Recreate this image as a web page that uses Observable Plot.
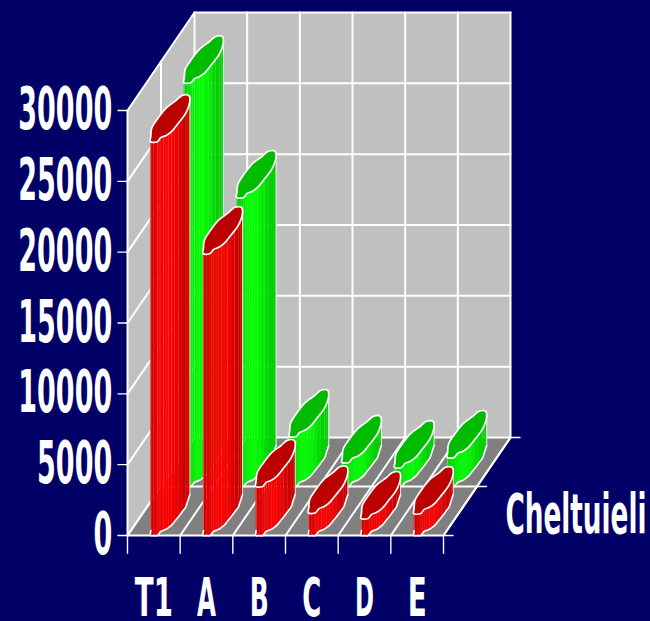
<!DOCTYPE html>
<html>
<head>
<meta charset="utf-8">
<script src="https://cdn.jsdelivr.net/npm/d3@7"></script>
<script src="https://cdn.jsdelivr.net/npm/@observablehq/plot@0.6"></script>
<style>
html,body{margin:0;padding:0;background:#000066;overflow:hidden}
svg{display:block}
</style>
</head>
<body>
<div id="chart"></div>
<script>
const categories = ["T1", "A", "B", "C", "D", "E"];
const redValues = [27800, 19900, 3460, 1600, 1200, 1550];
const greenValues = [28500, 20400, 3530, 1700, 1340, 2050];
const valueTicks = [0, 5000, 10000, 15000, 20000, 25000, 30000];
const depthTitle = "Cheltuieli";

// Oblique projection: depth 0 = front plane, depth 1 = back wall.
const DX = 1.272, DY = 6918;
const px = (c, d) => c + d * DX;
const py = (v, d) => v + d * DY;

// Cross-section outline of a bar in unit coordinates (u across, v in depth).
const outlineU = [-.3, .3, .36, .68, .9, 1, 1.05, .68, .3, -.3, -.5, -.9, -1, -.95, -.55];
const outlineV = [-1, -1, -.82, -.73, -.56, -.2, .24, .78, 1, 1, .78, .47, .02, -.42, -.78];
const outline = outlineU.map((u, i) => ({u, v: outlineV[i]}));
const BAR_U = 0.225, BAR_D = 0.235;

function pt(cat, row, value, o) {
  const d = (row === 0 ? 0.235 : 0.735) + o.v * BAR_D;
  return {x: px(cat + 0.5 + o.u * BAR_U, d), y: py(value, d)};
}

// visible front arc: from the leftmost vertex, through the low side, to the rightmost
const frontIdx = [14, 0, 1, 2, 3, 4, 5, 6, 7];
function subdivide(list, n) {
  const out = [];
  for (let i = 0; i < list.length - 1; i++)
    for (let k = 0; k < n; k++) {
      const t = k / n, a = outline[list[i]], b = outline[list[i + 1]];
      out.push({u: a.u + (b.u - a.u) * t, v: a.v + (b.v - a.v) * t});
    }
  out.push(outline[list[list.length - 1]]);
  return out;
}
const front = subdivide(frontIdx, 2);

const series = [
  {name: "green", row: 1, values: greenValues, top: "#00bb00", base: [0, 255, 0]},
  {name: "red", row: 0, values: redValues, top: "#bb0000", base: [255, 0, 0]}
];

const fixed = {x: "x", y: "y"};
const barMarks = [];
// painter's order: back row first, one set of marks for each bar
for (const s of series) {
  for (let c = categories.length - 1; c >= 0; c--) {
    const value = s.values[c];
    const facets = [], rim = [], cap = [], edges = [];
    const xmin = pt(c, s.row, 0, outline[14]).x, xmax = pt(c, s.row, 0, outline[7]).x;
    for (let i = 0; i < front.length - 1; i++) {
      const a = front[i], b = front[i + 1];
      const pa0 = pt(c, s.row, 0, a), pb0 = pt(c, s.row, 0, b);
      const pa1 = pt(c, s.row, value, a), pb1 = pt(c, s.row, value, b);
      const mid = ((pa0.x + pb0.x) / 2 - xmin) / (xmax - xmin);
      const shade = 0.82 + 0.18 * Math.sin(Math.PI * Math.min(1, Math.max(0, mid * 1.25 - 0.02)));
      const col = `rgb(${s.base.map(k => Math.round(k * shade)).join(",")})`;
      for (const p of [pa0, pb0, pb1, pa1]) facets.push({...p, id: i, col});
    }
    for (const a of front) rim.push(pt(c, s.row, 0, a));
    edges.push({...pt(c, s.row, 0, front[0]), id: 0, o: 0.35}, {...pt(c, s.row, value, front[0]), id: 0, o: 0.35});
    const last = front[front.length - 1];
    edges.push({...pt(c, s.row, 0, last), id: 1, o: 0.85}, {...pt(c, s.row, value, last), id: 1, o: 0.85});
    for (const o of outline) cap.push(pt(c, s.row, value, o));
    barMarks.push(
      Plot.line(facets, {...fixed, z: "id", fill: "col", stroke: "#fff", strokeOpacity: 0.04, strokeWidth: 0.7, curve: "linear-closed"}),
      Plot.line(rim, {...fixed, stroke: "#fff", strokeWidth: 1.6, curve: "catmull-rom"}),
      Plot.line(edges, {...fixed, z: "id", stroke: "#fff", strokeOpacity: "o", strokeWidth: 1}),
      Plot.line(cap, {...fixed, fill: s.top, stroke: "#fff", strokeWidth: 1.7, strokeLinejoin: "round", curve: "catmull-rom-closed"})
    );
  }
}

// walls, floor, grid
const yMax = 30000, xMax = categories.length;
const poly = (pts, name) => pts.map(([c, d, v]) => ({x: px(c, d), y: py(v, d), name}));
const sideWall = poly([[0,0,0],[0,1,0],[0,1,yMax],[0,0,yMax]], "side");
const backWall = poly([[0,1,0],[xMax,1,0],[xMax,1,yMax],[0,1,yMax]], "back");
const floor = poly([[0,0,0],[xMax,0,0],[xMax,1,0],[0,1,0]], "floor");

const gridSegs = [];
const seg = (a, b) => { const k = gridSegs.length; gridSegs.push(
  {x: px(a[0], a[1]), y: py(a[2], a[1]), k}, {x: px(b[0], b[1]), y: py(b[2], b[1]), k}); };
for (const v of valueTicks) {
  seg([0, 0, v], [0, 1, v]);
  seg([0, 1, v], [xMax, 1, v]);
}
categories.concat([""]).forEach((_, c) => {
  seg([c, 0, 0], [c, 1, 0]);
  seg([c, 1, 0], [c, 1, yMax]);
});
seg([0, 0.5, 0], [0, 0.5, yMax]);
seg([0, 0.5, 0], [xMax, 0.5, 0]);
seg([0, 0, 0], [xMax, 0, 0]);
seg([0, 0, 0], [0, 0, yMax]);
seg([xMax, 0, 0], [xMax, 1, 0]);

// tick stubs
const tickSegs = [];
const tseg = (x1, y1, x2, y2) => { const k = tickSegs.length; tickSegs.push({x: x1, y: y1, k}, {x: x2, y: y2, k}); };
const xStub = 1250, yStub = 0.18;
categories.concat([""]).forEach((_, c) => tseg(c, 0, c, -xStub));
for (const v of valueTicks) tseg(0, v, -yStub, v);
tseg(xMax, 0, xMax + yStub, 0);
tseg(px(xMax, .5), py(0, .5), px(xMax, .5) + yStub, py(0, .5));
tseg(px(xMax, 1), py(0, 1), px(xMax, 1) + yStub, py(0, 1));

const catLabels = categories.map((c, i) => ({c, x: i + 0.5, y: -4450}));
const valLabels = valueTicks.map(v => ({v: String(v), x: -0.29, y: v}));
const depthLabel = [{t: depthTitle, x: 8.515, y: 1413}];

const textStyle = {...fixed, fill: "#fff", fontFamily: "DejaVu Sans", fontWeight: "bold"};
const chart = Plot.plot({
  width: 650, height: 621,
  margin: 0,
  style: {background: "#000066"},
  x: {domain: [0, 6], range: [127, 443], axis: null},
  y: {domain: [0, 30000], range: [535, 110], axis: null},
  marks: [
    Plot.line(sideWall, {...fixed, z: "name", fill: "#c0c0c0", stroke: "none", curve: "linear-closed"}),
    Plot.line(backWall, {...fixed, z: "name", fill: "#c0c0c0", stroke: "none", curve: "linear-closed"}),
    Plot.line(floor, {...fixed, z: "name", fill: "#808080", stroke: "none", curve: "linear-closed"}),
    Plot.line(gridSegs, {...fixed, z: "k", stroke: "#fff", strokeWidth: 2, strokeLinecap: "round"}),
    Plot.line(tickSegs, {...fixed, z: "k", stroke: "#fff", strokeWidth: 1.4}),
    ...barMarks,
    Plot.text(valLabels, {...textStyle, text: "v", fontSize: 58, textAnchor: "end", className: "vlabel"}),
    Plot.text(catLabels, {...textStyle, text: "c", fontSize: 54, textAnchor: "middle", className: "clabel"}),
    Plot.text(depthLabel, {...textStyle, text: "t", fontSize: 55, textAnchor: "middle", className: "dlabel"})
  ]
});
document.getElementById("chart").append(chart);
// Condense the labels horizontally, as in the reference
const squeeze = (cls, perChar) => chart.querySelectorAll(`.${cls} text`).forEach(t => {
  const scale = perChar * t.textContent.length / t.getComputedTextLength();
  const base = t.getAttribute("transform") || "";
  t.setAttribute("transform", `${base} scale(${scale},1)`);
});
squeeze("vlabel", 18.8);
squeeze("clabel", 19);
squeeze("dlabel", 14.1);
</script>
</body>
</html>
